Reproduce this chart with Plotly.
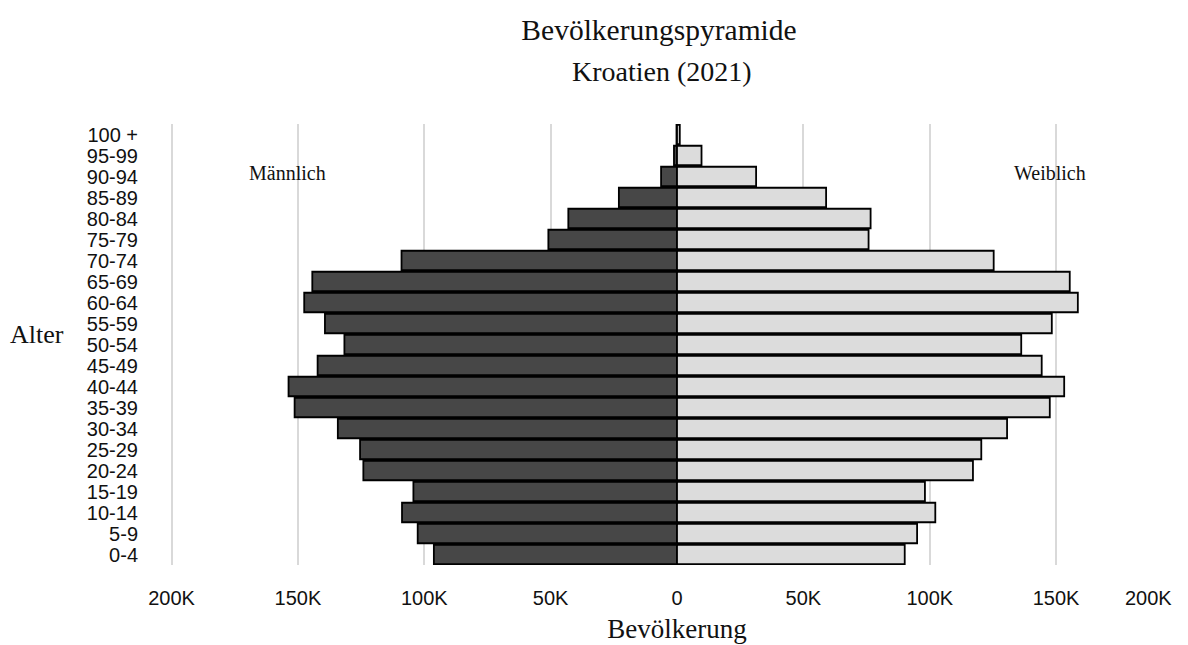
import plotly.graph_objects as go

age_groups = ["0-4", "5-9", "10-14", "15-19", "20-24", "25-29", "30-34", "35-39",
              "40-44", "45-49", "50-54", "55-59", "60-64", "65-69", "70-74",
              "75-79", "80-84", "85-89", "90-94", "95-99", "100 +"]
male = [96200, 102600, 108800, 104300, 124100, 125400, 134200, 151300,
        153700, 142200, 131600, 139300, 147500, 144300, 109000,
        50900, 43000, 23000, 6300, 1200, 200]
female = [90100, 95000, 102200, 98100, 117100, 120400, 130600, 147500,
          153200, 144300, 136200, 148300, 158600, 155400, 125300,
          75800, 76600, 59000, 31300, 9700, 1100]

tick_vals = [-200000, -150000, -100000, -50000, 0, 50000, 100000, 150000, 200000]
tick_text = ["200K", "150K", "100K", "50K", "0", "50K", "100K", "150K", ""]

serif = "Liberation Serif, Times New Roman, serif"
sans = "Liberation Sans, Arial, sans-serif"

W, H = 1180, 637          # page body has an 8px margin
L, R, T, B = 161, 3, 116, 80
PW, PH = W - L - R, H - T - B


def px_x(sx):   # screen x -> paper x
    return (sx - 8 - L) / PW


def px_y(sy):   # screen y -> paper y
    return (H - B - (sy - 8)) / PH


fig = go.Figure()
fig.add_trace(go.Bar(
    y=age_groups, x=[-v for v in male], orientation="h", name="Männlich",
    marker=dict(color="#474747", line=dict(color="#000000", width=1.8)),
    customdata=male, hovertemplate="%{y}: %{customdata}<extra>Männlich</extra>"))
fig.add_trace(go.Bar(
    y=age_groups, x=female, orientation="h", name="Weiblich",
    marker=dict(color="#dcdcdc", line=dict(color="#000000", width=1.8)),
    hovertemplate="%{y}: %{x}<extra>Weiblich</extra>"))

fig.update_layout(
    width=W, height=H,
    barmode="relative", bargap=0.07,
    showlegend=False,
    plot_bgcolor="white", paper_bgcolor="white",
    margin=dict(l=L, r=R, t=T, b=B, autoexpand=False),
    title=dict(text="Bevölkerungspyramide",
               x=(659 - 8) / W, xanchor="center", xref="container",
               y=1 - (30 - 8) / H, yanchor="middle", yref="container",
               font=dict(family=serif, size=29.5, color="#111")),
    xaxis=dict(range=[-201000, 201000], tickvals=tick_vals, ticktext=tick_text,
               showgrid=True, gridcolor="#d9d9d9", gridwidth=1.5,
               zeroline=False, showline=False, ticks="",
               ticklabelstandoff=19,
               tickfont=dict(family=sans, size=20, color="#111"),
               title=dict(text="Bevölkerung", font=dict(family=serif, size=27, color="#111"),
                          standoff=11)),
    yaxis=dict(categoryorder="array", categoryarray=age_groups,
               tickmode="array", tickvals=age_groups, ticktext=age_groups,
               showgrid=False, zeroline=False, showline=False, ticks="",
               ticklabelstandoff=30,
               tickfont=dict(family=sans, size=20, color="#111")),
    annotations=[
        dict(text="Kroatien (2021)", x=px_x(662), xref="paper", xanchor="center",
             y=px_y(72), yref="paper", yanchor="middle",
             showarrow=False, font=dict(family=serif, size=28, color="#111")),
        dict(text="Männlich", x=-154000, xref="x", xanchor="center",
             y=px_y(173), yref="paper", yanchor="middle",
             showarrow=False, font=dict(family=serif, size=20, color="#111")),
        dict(text="Weiblich", x=147500, xref="x", xanchor="center",
             y=px_y(173), yref="paper", yanchor="middle",
             showarrow=False, font=dict(family=serif, size=20, color="#111")),
        dict(text="Alter", x=px_x(37), xref="paper", xanchor="center",
             y=px_y(334), yref="paper", yanchor="middle",
             showarrow=False, font=dict(family=serif, size=26, color="#111")),
        dict(text="200K", x=186500, xref="x", xanchor="center",
             y=px_y(598), yref="paper", yanchor="middle",
             showarrow=False, font=dict(family=sans, size=20, color="#111")),
    ],
)

fig.write_html("out.html")
